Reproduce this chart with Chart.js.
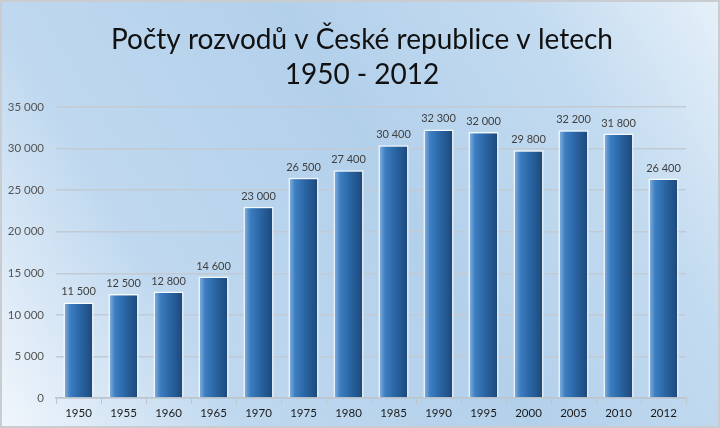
<!DOCTYPE html>
<html>
<head>
<meta charset="utf-8">
<script src="https://cdn.jsdelivr.net/npm/chart.js@4/dist/chart.umd.min.js"></script>
<style>
html,body{margin:0;padding:0;background:#fff;}
#wrap{width:720px;height:428px;position:relative;}
</style>
</head>
<body>
<div id="wrap"><canvas id="c" width="720" height="428"></canvas></div>
<script>
const categories = ['1950','1955','1960','1965','1970','1975','1980','1985','1990','1995','2000','2005','2010','2012'];
const divorces = [11500,12500,12800,14600,23000,26500,27400,30400,32300,32000,29800,32200,31800,26400];
const yTicks = [0,5000,10000,15000,20000,25000,30000,35000];
const titleLines = ['Počty rozvodů v České republice v letech','1950 - 2012'];

const FONT = 'Lato';
function fmt(v){ return String(v).replace(/\B(?=(\d{3})+(?!\d))/g,' '); }

const bgPlugin = {
  id:'bg',
  beforeDraw(chart){
    const c = chart.ctx, w = chart.width, h = chart.height;
    c.save();
    const g = c.createLinearGradient(0,h,w,0);
    g.addColorStop(0,'#f1f6fc');
    g.addColorStop(0.25,'#bfd8ef');
    g.addColorStop(0.55,'#b3d0eb');
    g.addColorStop(0.8,'#c3dbf0');
    g.addColorStop(1,'#e6f0f9');
    c.fillStyle = g;
    c.fillRect(0,0,w,h);
    c.strokeStyle = '#c9ccd0';
    c.lineWidth = 2;
    c.strokeRect(1,1,w-2,h-2);
    // title
    c.fillStyle = '#111';
    c.font = '28px ' + FONT;
    c.textAlign = 'center';
    c.textBaseline = 'middle';
    c.fillText(titleLines[0], 362, 40);
    c.fillText(titleLines[1], 362, 75);
    c.restore();
  }
};

const barGrad = {
  id:'barGrad',
  beforeDatasetsDraw(chart){
    const c = chart.ctx;
    chart.getDatasetMeta(0).data.forEach(bar=>{
      const l = bar.x - bar.width/2, r = bar.x + bar.width/2;
      const g = c.createLinearGradient(l,0,r,0);
      g.addColorStop(0,'#8fb8e2');
      g.addColorStop(0.22,'#3d7ec1');
      g.addColorStop(0.5,'#2c69a9');
      g.addColorStop(1,'#1b4677');
      bar.options = Object.assign({}, bar.options, {backgroundColor:g});
    });
  },
  afterDatasetsDraw(chart){
    const c = chart.ctx;
    c.save();
    c.font = '11px ' + FONT;
    c.fillStyle = '#404040';
    c.textAlign = 'center';
    c.textBaseline = 'bottom';
    const ds = chart.data.datasets[0];
    chart.getDatasetMeta(0).data.forEach((bar,i)=>{
      c.fillText(fmt(ds.data[i]), bar.x, bar.y - 5);
    });
    c.restore();
  }
};

new Chart(document.getElementById('c'),{
  type:'bar',
  data:{
    labels:categories,
    datasets:[{
      data:divorces,
      backgroundColor:'#2c69a9',
      borderColor:'rgba(255,255,255,0.85)',
      borderWidth:{top:1.5,left:1.5,right:1.5,bottom:0},
      categoryPercentage:1,
      barPercentage:0.67
    }]
  },
  options:{
    responsive:false,
    animation:false,
    devicePixelRatio:1,
    layout:{padding:{left:0,right:34,top:107,bottom:0}},
    plugins:{
      legend:{display:false},
      tooltip:{enabled:false},
      title:{display:false}
    },
    scales:{
      x:{
        grid:{display:true,drawOnChartArea:false,drawTicks:true,tickLength:6,color:'#bcc4cc',offset:true},
        border:{display:true,color:'#bcc4cc',width:1.5},
        ticks:{color:'#1a1a1a',font:{family:FONT,size:11.5},padding:2,maxRotation:0},
        afterFit(s){ s.height = 30; }
      },
      y:{
        min:0,max:35000,
        afterBuildTicks(s){ s.ticks = yTicks.map(v=>({value:v})); },
        grid:{color:'#c2cad3',lineWidth:1.5,drawTicks:false},
        border:{display:false},
        ticks:{color:'#555',font:{family:FONT,size:11.5},padding:12,callback:v=>fmt(v)},
        afterFit(s){ s.width = 56; }
      }
    }
  },
  plugins:[bgPlugin,barGrad]
});
</script>
</body>
</html>
